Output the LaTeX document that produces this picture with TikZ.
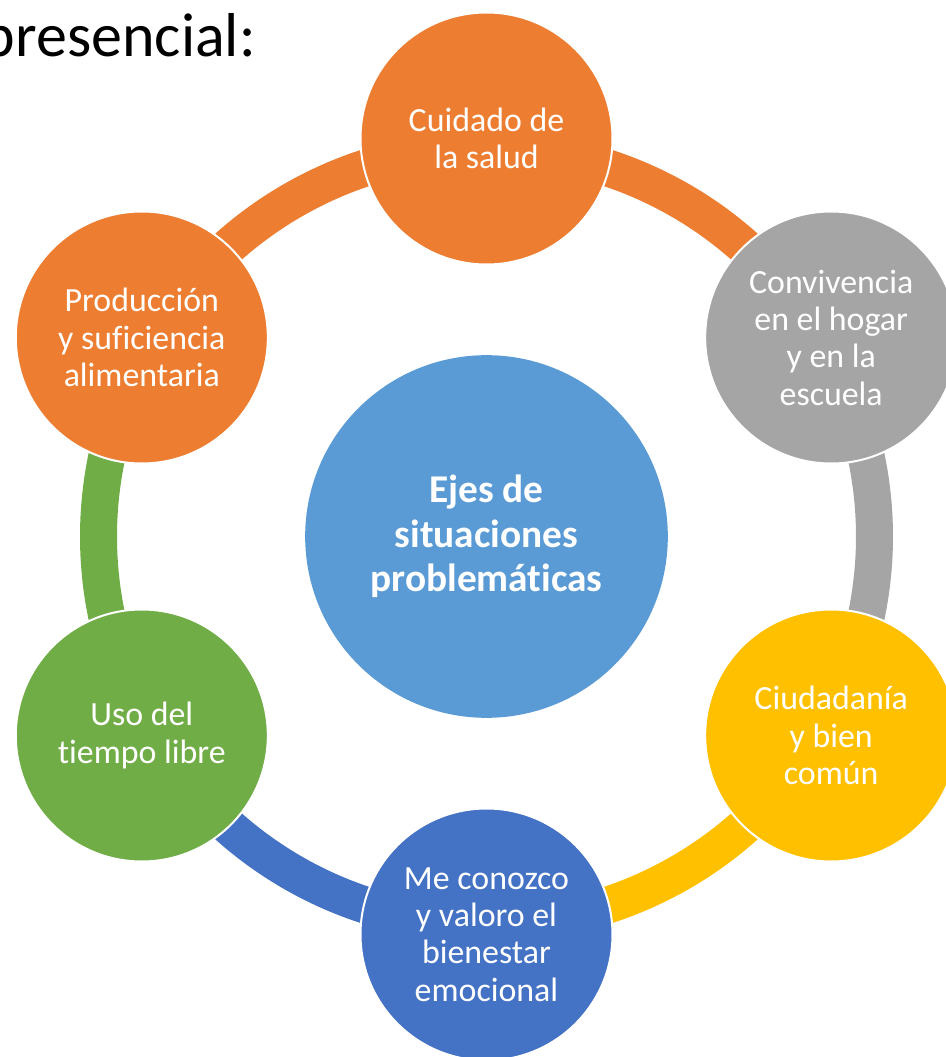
\documentclass[tikz,border=0pt]{standalone}
\usepackage{fontspec}
\setmainfont{Carlito}[Ligatures=NoCommon]
\definecolor{ejenaranja}{HTML}{ED7D31}
\definecolor{ejegris}{HTML}{A5A5A5}
\definecolor{ejeamarillo}{HTML}{FFC000}
\definecolor{ejeazul}{HTML}{4472C4}
\definecolor{ejeverde}{HTML}{70AD47}
\definecolor{ejecentro}{HTML}{5B9BD5}
\begin{document}
\begin{tikzpicture}[x=0.75pt,y=0.75pt,
	eje/.style={circle, draw=white, line width=1.5pt, minimum size=189pt, inner sep=0pt, text=white, align=center, font=\fontsize{25.4}{28}\selectfont},
	centro/.style={circle, fill=ejecentro, minimum size=272pt, inner sep=0pt, text=white, align=center, font=\bfseries\fontsize{29.5}{33.4}\selectfont},
	anillo/.style={line width=27.75pt}]
\clip (-486.5,-520.5) rectangle (459.5,536.5);
\node[centro] (ejes) at (0,0) {Ejes de\\situaciones\\problemáticas};
\foreach \ang/\col in {90/ejenaranja,30/ejegris,-30/ejeamarillo,-90/ejeazul,-150/ejeverde,150/ejenaranja}
{\draw[anillo,\col] ([shift={(\ang:388)}]ejes.center) arc[start angle=\ang, end angle=\ang-60, radius=388];
}
\node[eje, fill=ejenaranja] (salud) at (90:398) {Cuidado de\\la salud};
\node[eje, fill=ejegris] (convivencia) at (30:398) {Convivencia\\en el hogar\\y en la\\escuela};
\node[eje, fill=ejeamarillo] (ciudadania) at (-30:398) {Ciudadanía\\y bien\\común};
\node[eje, fill=ejeazul] (conozco) at (-90:398) {Me conozco\\y valoro el\\bienestar\\emocional};
\node[eje, fill=ejeverde] (tiempo) at (-150:398) {Uso del\\tiempo libre};
\node[eje, fill=ejenaranja] (produccion) at (150:398) {Producción\\y suficiencia\\alimentaria};
\node[anchor=base east, inner sep=0pt, font=\fontsize{46.5}{52}\selectfont] (titulo) at (-230.5,479.5) {presencial:};
\end{tikzpicture}
\end{document}
